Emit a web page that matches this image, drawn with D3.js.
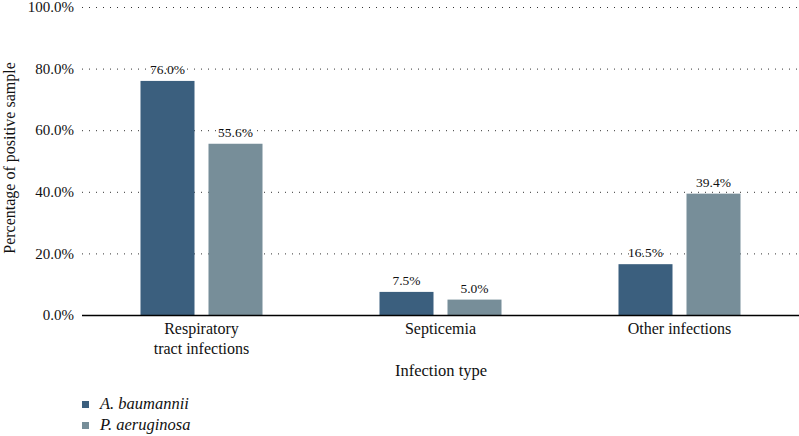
<!DOCTYPE html>
<html><head><meta charset="utf-8">
<script src="https://cdn.jsdelivr.net/npm/d3@7"></script>
<style>body{margin:0;background:#fff}svg{display:block}text{font-family:"Liberation Serif","DejaVu Serif",serif;fill:#111}</style>
</head><body><svg id="c" width="799" height="436"></svg>
<script>
const categories = [["Respiratory","tract infections"],["Septicemia"],["Other infections"]];
const seriesNames = ["A. baumannii","P. aeruginosa"];
const aBaumannii = [76.0, 7.5, 16.5];
const pAeruginosa = [55.6, 5.0, 39.4];
const yTicks = [0,20,40,60,80,100];
const colors = ["#3b5f7e","#778e99"];

const svg = d3.select("#c");
const x0 = d3.scaleBand().domain(d3.range(categories.length)).range([82,799]);
const y = d3.scaleLinear().domain([0,100]).range([315,7]);
const barW = 54, gap = 14;

// gridlines
svg.append("g").selectAll("line").data(yTicks.filter(d=>d>0)).join("line")
  .attr("x1",82).attr("x2",799).attr("y1",d=>y(d)+0.5).attr("y2",d=>y(d)+0.5)
  .attr("stroke","#333").attr("stroke-width",1).attr("stroke-dasharray","1,6");

// y axis labels
svg.append("g").selectAll("text").data(yTicks).join("text")
  .attr("x",74).attr("y",d=>y(d)).attr("dy","0.35em").attr("text-anchor","end")
  .style("font-size","15px").text(d=>d.toFixed(1)+"%");

const series = [aBaumannii,pAeruginosa];
series.forEach((vals,si)=>{
  const g = svg.append("g");
  const xp = i => x0(i)+x0.bandwidth()/2 + (si===0 ? -gap/2-barW : gap/2);
  g.selectAll("rect").data(vals).join("rect")
    .attr("x",(d,i)=>xp(i)).attr("width",barW)
    .attr("y",d=>y(d)).attr("height",d=>y(0)-y(d)).attr("fill",colors[si]);
  g.selectAll("text").data(vals).join("text")
    .attr("x",(d,i)=>xp(i)+barW/2).attr("y",d=>y(d)-7).attr("text-anchor","middle")
    .style("font-size","13.5px").text(d=>d.toFixed(1)+"%");
});

// x axis line
svg.append("line").attr("x1",82).attr("x2",799).attr("y1",315.5).attr("y2",315.5)
  .attr("stroke","#000").attr("stroke-width",1.3);

// category labels
categories.forEach((lines,i)=>{
  const t = svg.append("text").attr("text-anchor","middle").style("font-size","16px");
  lines.forEach((l,j)=>t.append("tspan").attr("x",x0(i)+x0.bandwidth()/2).attr("y",334+j*20).text(l));
});

svg.append("text").attr("x",441).attr("y",376).attr("text-anchor","middle").style("font-size","16.5px").text("Infection type");
svg.append("text").attr("transform","translate(15,158) rotate(-90)").attr("text-anchor","middle")
  .style("font-size","16px").text("Percentage of positive sample");

// legend
seriesNames.forEach((n,i)=>{
  svg.append("rect").attr("x",82).attr("y",401+i*21).attr("width",7).attr("height",7).attr("fill",colors[i]);
  svg.append("text").attr("x",100).attr("y",409+i*21).style("font-size","16.5px").style("font-style","italic").text(n);
});
</script></body></html>
